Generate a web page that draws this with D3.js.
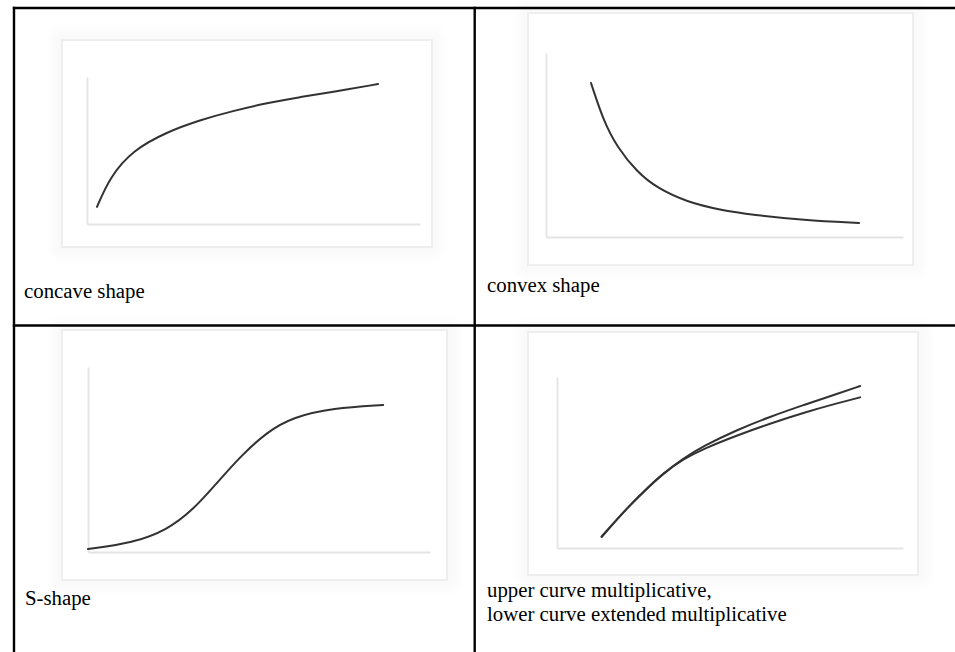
<!DOCTYPE html>
<html>
<head>
<meta charset="utf-8">
<script src="https://cdn.jsdelivr.net/npm/d3@7"></script>
<style>
  body { margin: 0; background: #fff; }
  svg { display: block; }
  .caption { font-family: 'Liberation Serif', 'Times New Roman', Times, serif; }
</style>
</head>
<body>
<script>
// Curve points, in axis units (0..10 on both axes)
var concave = [[0.30, 1.16], [0.69, 3.20], [1.38, 5.03], [2.40, 6.26], [3.39, 7.07],
  [4.38, 7.69], [5.41, 8.23], [6.40, 8.64], [7.39, 8.98], [8.74, 9.52]];
var convex = [[1.26, 8.37], [1.60, 6.36], [1.99, 4.89], [2.55, 3.53], [3.11, 2.66],
  [3.95, 1.90], [4.87, 1.47], [5.80, 1.20], [7.20, 0.92], [8.77, 0.76]];
var sShape = [[0.00, 0.16], [1.32, 0.49], [2.31, 1.19], [3.07, 2.27], [3.77, 3.73],
  [4.44, 5.14], [5.23, 6.49], [6.00, 7.30], [7.16, 7.78], [8.63, 7.95]];
var multiplicative = [[1.29, 0.66], [1.63, 1.44], [2.02, 2.32], [2.50, 3.29], [3.07, 4.37],
  [3.65, 5.24], [4.23, 5.96], [5.19, 6.90], [6.16, 7.68], [7.12, 8.36], [8.09, 9.01], [8.76, 9.47]];
var extendedMultiplicative = [[1.29, 0.66], [1.63, 1.44], [2.02, 2.32], [2.50, 3.29], [3.07, 4.37],
  [3.65, 5.20], [4.23, 5.80], [5.19, 6.58], [6.16, 7.28], [7.12, 7.91], [8.09, 8.46], [8.76, 8.81]];
var AXIS_DOMAIN = [0, 10];

var captions = [
  ['concave shape'],
  ['convex shape'],
  ['S-shape'],
  ['upper curve multiplicative,', 'lower curve extended multiplicative']
];

// Constants
var WIDTH = 955;
var HEIGHT = 652;
var BORDER = 2.4;
var TABLE_LEFT = 14;
var TABLE_TOP = 8;
var MID_X = 474.7;
var MID_Y = 325.5;
var CURVE_COLOR = '#333';
var AXIS_COLOR = '#e4e4e4';
var FRAME_COLOR = '#eeeeee';
var FONT_SIZE = 20.8;
var LINE_HEIGHT = 23.5;

// Layout of each cell: frame box, axis box [x0, yTop, x1, yBottom], caption anchor
var panels = [
  { frame: [62, 40, 432, 247], axis: [87, 77, 420, 224], series: [concave], caption: captions[0], text: [24, 298] },
  { frame: [528, 13, 913, 265], axis: [546, 53, 903, 237], series: [convex], caption: captions[1], text: [487, 292] },
  { frame: [62, 330, 447, 580], axis: [88, 367, 430, 552], series: [sShape], caption: captions[2], text: [25, 605] },
  { frame: [528, 332, 918, 575], axis: [557, 377, 903, 548], series: [multiplicative, extendedMultiplicative], caption: captions[3], text: [487, 597] }
];

var svg = d3.select('body').append('svg')
  .attr('width', WIDTH)
  .attr('height', HEIGHT);

var defs = svg.append('defs');

defs.append('filter')
  .attr('id', 'glow')
  .attr('x', '-10%').attr('y', '-10%')
  .attr('width', '120%').attr('height', '120%')
  .append('feGaussianBlur')
  .attr('stdDeviation', 4);

defs.append('filter')
  .attr('id', 'soft')
  .append('feGaussianBlur')
  .attr('stdDeviation', 0.45);

svg.append('rect')
  .attr('width', WIDTH)
  .attr('height', HEIGHT)
  .attr('fill', '#fff');

panels.forEach(function (p) {
  var g = svg.append('g');

  // faint picture frame
  g.append('rect')
    .attr('x', p.frame[0] - 10)
    .attr('y', p.frame[1] - 9)
    .attr('width', p.frame[2] - p.frame[0] + 20)
    .attr('height', p.frame[3] - p.frame[1] + 18)
    .attr('fill', '#f9f9f9')
    .attr('filter', 'url(#glow)');

  g.append('rect')
    .attr('x', p.frame[0])
    .attr('y', p.frame[1])
    .attr('width', p.frame[2] - p.frame[0])
    .attr('height', p.frame[3] - p.frame[1])
    .attr('fill', '#fff')
    .attr('stroke', FRAME_COLOR)
    .attr('stroke-width', 2);

  var x = d3.scaleLinear().domain(AXIS_DOMAIN).range([p.axis[0], p.axis[2]]);
  var y = d3.scaleLinear().domain(AXIS_DOMAIN).range([p.axis[3], p.axis[1]]);

  g.append('g')
    .attr('class', 'axis')
    .attr('transform', 'translate(0,' + p.axis[3] + ')')
    .call(d3.axisBottom(x).ticks(0).tickSizeOuter(0));

  g.append('g')
    .attr('class', 'axis')
    .attr('transform', 'translate(' + p.axis[0] + ',0)')
    .call(d3.axisLeft(y).ticks(0).tickSizeOuter(0));

  g.selectAll('.axis .domain')
    .attr('stroke', AXIS_COLOR)
    .attr('stroke-width', 1.8);

  var line = d3.line()
    .x(function (d) { return x(d[0]); })
    .y(function (d) { return y(d[1]); })
    .curve(d3.curveBasis);

  g.selectAll('path.curve')
    .data(p.series)
    .enter().append('path')
    .attr('class', 'curve')
    .attr('d', line)
    .attr('fill', 'none')
    .attr('stroke', CURVE_COLOR)
    .attr('stroke-width', 2)
    .attr('stroke-linecap', 'round')
    .attr('filter', 'url(#soft)');

  g.selectAll('text')
    .data(p.caption)
    .enter().append('text')
    .attr('class', 'caption')
    .attr('x', p.text[0])
    .attr('y', function (d, i) { return p.text[1] + i * LINE_HEIGHT; })
    .attr('font-size', FONT_SIZE)
    .attr('fill', '#000')
    .text(function (d) { return d; });
});

// table rules
var rules = [
  [TABLE_LEFT, TABLE_TOP, WIDTH, TABLE_TOP],
  [TABLE_LEFT, MID_Y, WIDTH, MID_Y],
  [TABLE_LEFT, TABLE_TOP, TABLE_LEFT, HEIGHT],
  [MID_X, TABLE_TOP, MID_X, HEIGHT]
];

svg.append('g').selectAll('line')
  .data(rules)
  .enter().append('line')
  .attr('x1', function (d) { return d[0]; })
  .attr('y1', function (d) { return d[1]; })
  .attr('x2', function (d) { return d[2]; })
  .attr('y2', function (d) { return d[3]; })
  .attr('stroke', '#000')
  .attr('stroke-width', BORDER)
  .attr('stroke-linecap', 'square');
</script>
</body>
</html>
